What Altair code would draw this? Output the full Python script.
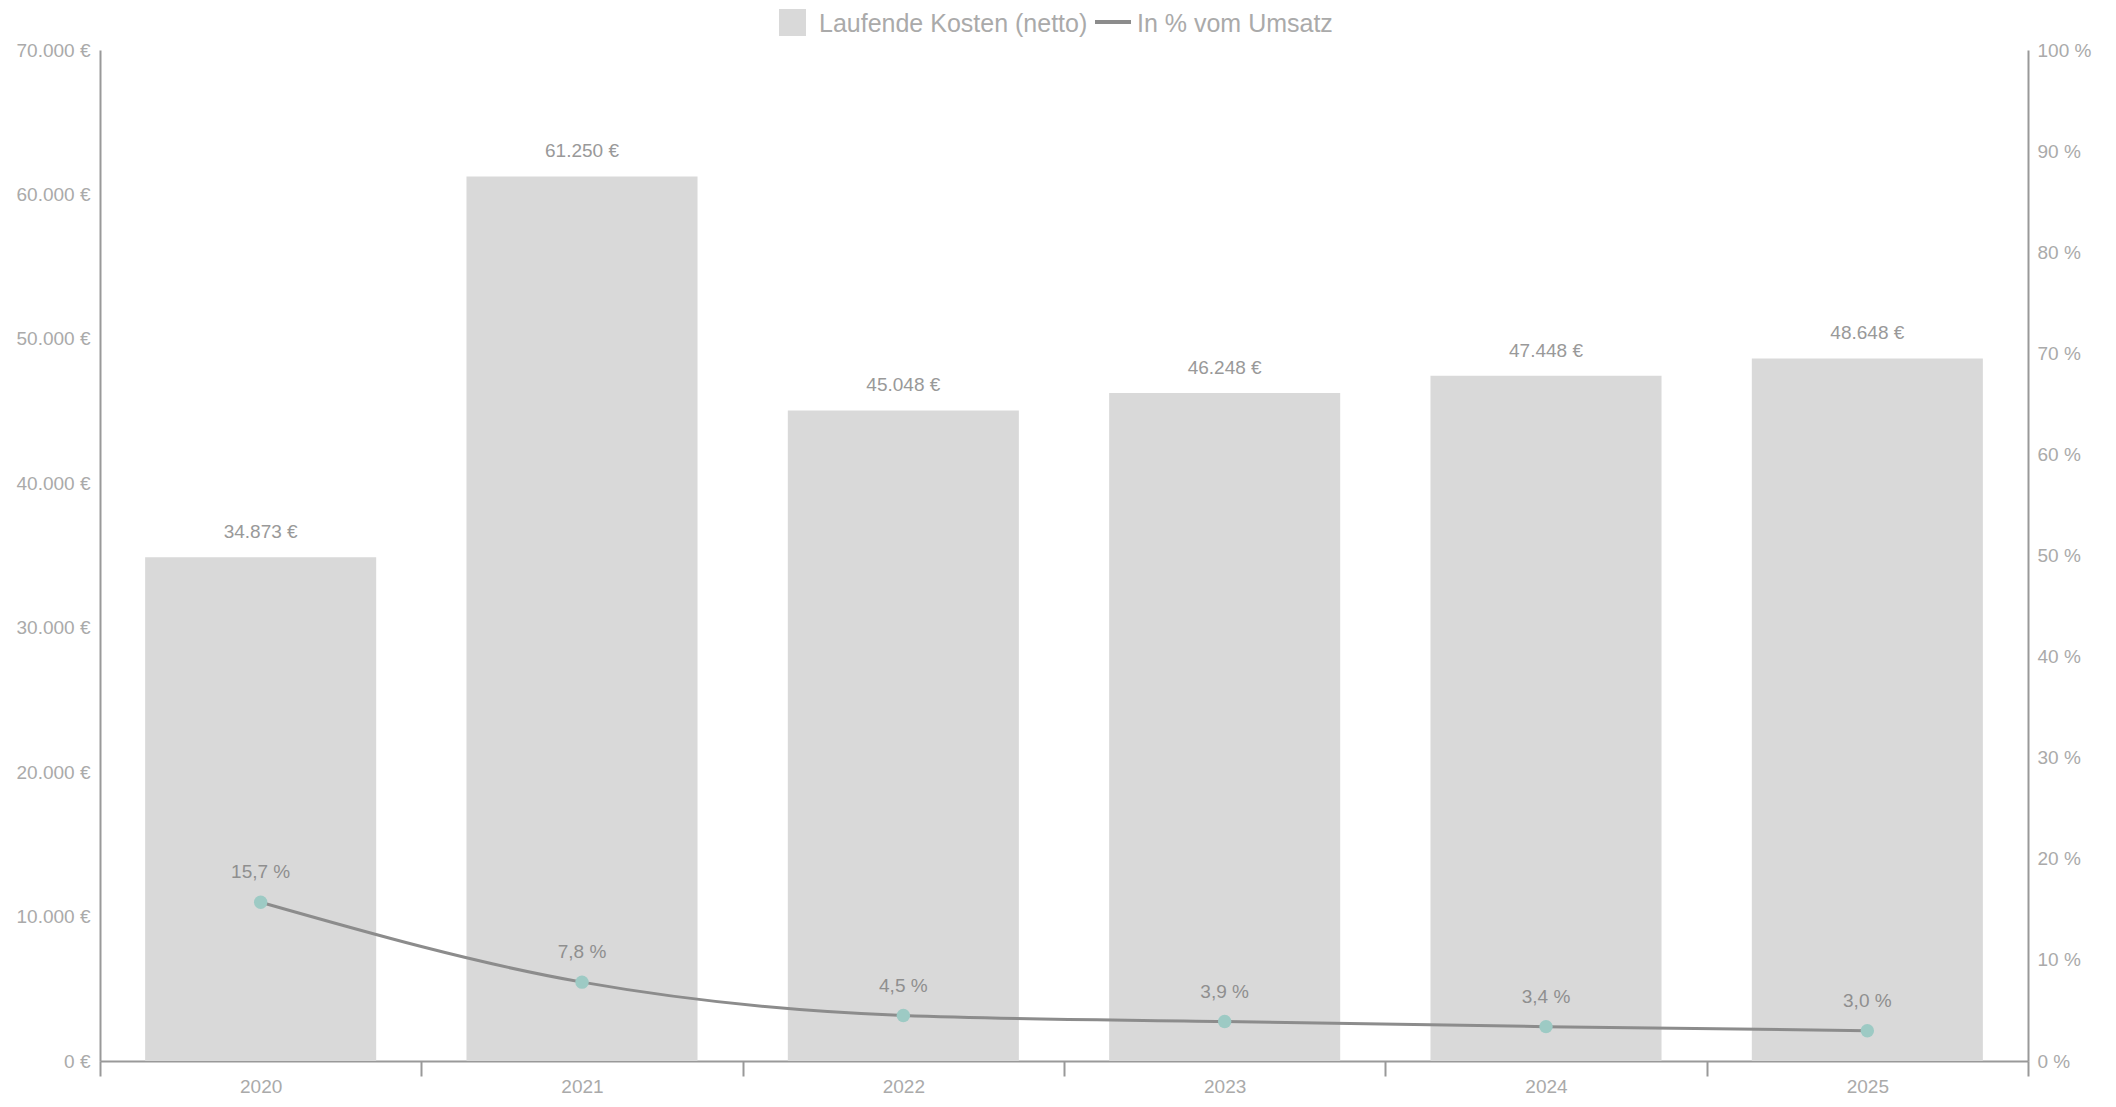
import altair as alt
import pandas as pd

years = ["2020", "2021", "2022", "2023", "2024", "2025"]
costs = [34873, 61250, 45048, 46248, 47448, 48648]
pct = [15.7, 7.8, 4.5, 3.9, 3.4, 3.0]

legend_bar = "Laufende Kosten (netto)"
legend_line = "In % vom Umsatz"

cost_labels = [f"{c:,}".replace(",", ".") + " €" for c in costs]
pct_labels = [f"{p:.1f}".replace(".", ",") + " %" for p in pct]

df = pd.DataFrame({
    "year": years,
    "cost": costs,
    "pct": pct,
    "cost_label": cost_labels,
    "pct_label": pct_labels,
})

FONT = "Liberation Sans"
AX = "#999999"
LBL = "#aaaaaa"
FS = 19

x_enc = alt.X(
    "year:N",
    sort=years,
    scale=alt.Scale(paddingInner=0, paddingOuter=0),
    axis=alt.Axis(
        title=None, labelAngle=0, tickBand="extent", tickSize=15, tickWidth=2,
        tickColor=AX, domainColor=AX, domainWidth=2, labelColor=LBL,
        labelFontSize=FS, labelFont=FONT, labelPadding=1,
    ),
)

left_base = alt.Chart(df).encode(
    x=x_enc,
    y=alt.Y(
        "cost:Q",
        scale=alt.Scale(domain=[0, 70000], nice=False),
        axis=alt.Axis(
            title=None, values=list(range(0, 70001, 10000)), ticks=False, grid=False,
            domainColor=AX, domainWidth=2, labelColor=LBL, labelFontSize=FS,
            labelFont=FONT, labelPadding=10,
            labelExpr="replace(format(datum.value, ','), ',', '.') + ' €'",
        ),
    ),
)
bars = left_base.mark_bar(color="#d9d9d9", width=alt.RelativeBandSize(0.719))
bar_text = left_base.mark_text(
    dy=-25, baseline="middle", fontSize=FS, font=FONT, color="#999999"
).encode(text="cost_label:N")
left = alt.layer(bars, bar_text)

right_base = alt.Chart(df).encode(
    x=x_enc,
    y=alt.Y(
        "pct:Q",
        scale=alt.Scale(domain=[0, 100], nice=False),
        axis=alt.Axis(
            title=None, orient="right", values=list(range(0, 101, 10)), ticks=False,
            grid=False, domainColor=AX, domainWidth=2, labelColor=LBL,
            labelFontSize=FS, labelFont=FONT, labelPadding=9,
            labelExpr="format(datum.value, 'd') + ' %'",
        ),
    ),
)
line = right_base.mark_line(color="#8c8c8c", strokeWidth=3, interpolate="monotone")
pts = right_base.mark_point(filled=True, size=180, color="#9dcac4", opacity=1)
pct_text = right_base.mark_text(
    dy=-30, baseline="middle", fontSize=FS, font=FONT, color="#8f8f8f"
).encode(text="pct_label:N")
right = alt.layer(line, pts, pct_text)

one = pd.DataFrame({"k": [0]})
leg_sq = alt.Chart(one).mark_square(color="#d9d9d9", size=729, opacity=1).encode(
    x=alt.value(692.5), y=alt.value(-27.5)
)
leg_t1 = alt.Chart(one).mark_text(
    align="left", baseline="middle", fontSize=25, font=FONT, color=LBL
).encode(x=alt.value(719), y=alt.value(-26), text=alt.value(legend_bar))
leg_ln = alt.Chart(one).mark_rule(color="#8c8c8c", strokeWidth=4).encode(
    x=alt.value(995), x2=alt.value(1031), y=alt.value(-28)
)
leg_t2 = alt.Chart(one).mark_text(
    align="left", baseline="middle", fontSize=25, font=FONT, color=LBL
).encode(x=alt.value(1037), y=alt.value(-26), text=alt.value(legend_line))

chart = (
    alt.layer(left, right, leg_sq, leg_t1, leg_ln, leg_t2)
    .resolve_scale(y="independent")
    .properties(
        width=1928,
        height=1011,
        autosize=alt.AutoSizeParams(type="none"),
        padding={"left": 92, "top": 42, "right": 80, "bottom": 34},
    )
    .configure_view(stroke=None)
)

chart.save("out.html", embed_options={"renderer": "svg", "actions": False})
